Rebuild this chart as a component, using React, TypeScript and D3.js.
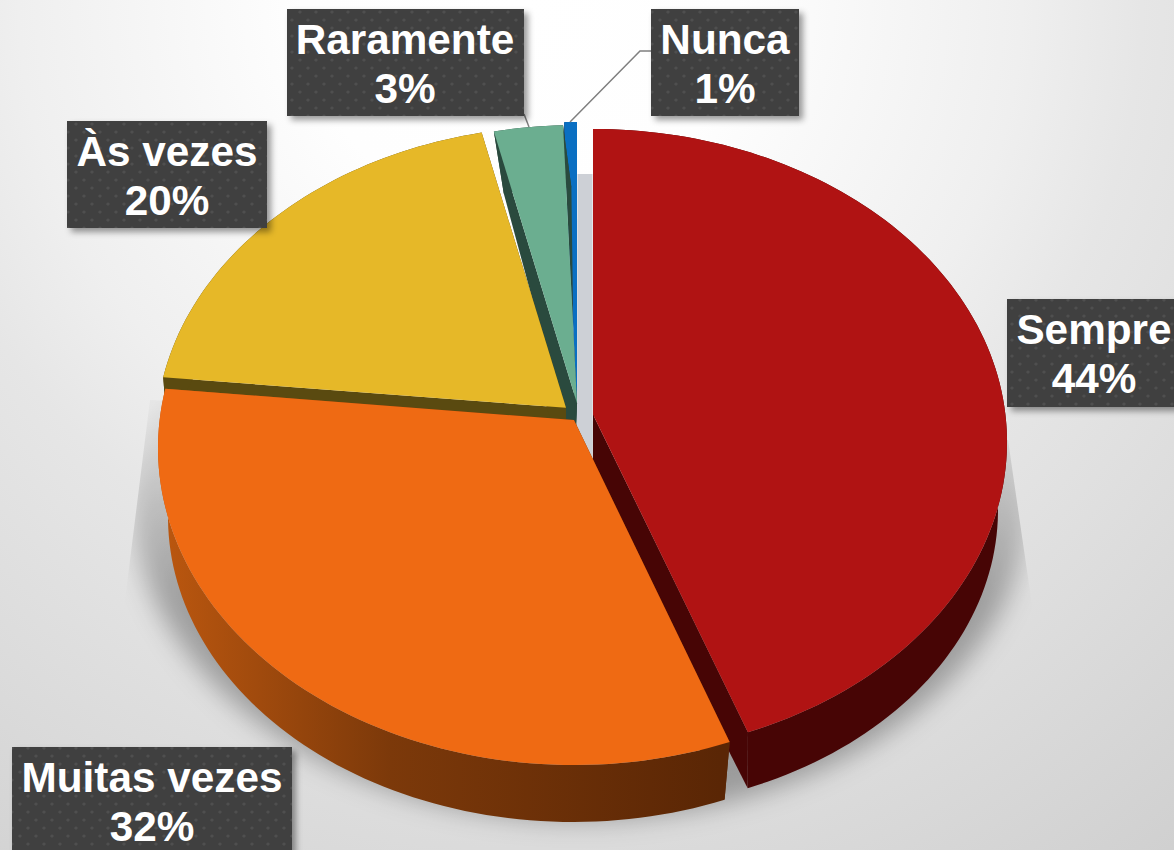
import React from "react";
import * as d3 from "d3";

const categories = ["Sempre", "Muitas vezes", "Às vezes", "Raramente", "Nunca"];
const values = [44.4, 32.2, 19.8, 3, 0.6];
const percentLabels = ["44%", "32%", "20%", "3%", "1%"];
const topColors = ["#b01313", "#ef6a13", "#e6b828", "#6bae90", "#0a6fc2"];
const wallColors = ["#470505", "url(#orangeWall)", "#5a4a10", "#2a4a3e", "#06386a"];

// projected ellipses for the upper face and the lower rim of each exploded slice
const topRims = [
  { cx: 593, cy: 442, rx: 414, ry: 313 },
  { cx: 574, cy: 448, rx: 416, ry: 317 },
  { cx: 566, cy: 435, rx: 410, ry: 309 },
  { cx: 577, cy: 430, rx: 404, ry: 305 },
  { cx: 577, cy: 440, rx: 371, ry: 318 },
];
const bottomRims = [
  { cx: 598, cy: 510, rx: 400, ry: 300 },
  { cx: 573, cy: 517, rx: 405, ry: 305 },
  { cx: 566, cy: 494, rx: 405, ry: 295 },
  { cx: 585, cy: 483, rx: 395, ry: 296 },
  { cx: 577, cy: 450, rx: 371, ry: 310 },
];
const innerBottomX = [593, 573, 566, 575, 577];
const labelBoxes = [
  { x: 1007, y: 299, w: 175, h: 108 },
  { x: 12, y: 747, w: 280, h: 112 },
  { x: 67, y: 121, w: 200, h: 107 },
  { x: 287, y: 9, w: 237, h: 107 },
  { x: 651, y: 9, w: 148, h: 107 },
];
const labelCenters = [1094, 152, 167, 405, 725];

const perspective = -0.088;
type Rim = { cx: number; cy: number; rx: number; ry: number };

function project(rim: Rim, theta: number, r = 1): [number, number] {
  const u = Math.sin(theta) * r;
  const v = -Math.cos(theta) * r;
  const e = perspective;
  const d = 1 + e * v;
  const pu = (u * Math.sqrt(1 - e * e)) / d;
  const pv = (v + e) / d;
  return [rim.cx + pu * rim.rx, rim.cy + pv * rim.ry];
}

const angles = d3.pie<number>().sort(null)(values);
const line = d3.line();

function arcPts(rim: Rim, a0: number, a1: number): [number, number][] {
  const n = Math.max(4, Math.ceil((a1 - a0) * 40));
  return d3.range(n + 1).map((i) => project(rim, a0 + ((a1 - a0) * i) / n));
}
const close = (pts: [number, number][]) => line(pts) + "Z";

function topPath(i: number) {
  const a = angles[i];
  return close([project(topRims[i], 0, 0), ...arcPts(topRims[i], a.startAngle, a.endAngle)]);
}
function wallPath(i: number) {
  const a = angles[i];
  return close([
    ...arcPts(topRims[i], a.startAngle, a.endAngle),
    ...arcPts(bottomRims[i], a.startAngle, a.endAngle).reverse(),
  ]);
}
function cutPath(i: number, theta: number) {
  return close([
    project(topRims[i], 0, 0),
    project(topRims[i], theta),
    project(bottomRims[i], theta),
    [innerBottomX[i], project(bottomRims[i], 0, 0)[1]],
  ]);
}

const order = [4, 3, 2, 0, 1];

export default function App() {
  return (
    <svg
      width={1174}
      height={850}
      viewBox="0 0 1174 850"
      style={{ position: "absolute", left: 0, top: 0, display: "block" }}
      fontFamily="'Liberation Sans', Arial, sans-serif"
    >
      <defs>
        <radialGradient id="bg" gradientUnits="userSpaceOnUse" cx={520} cy={0} r={1090}>
          <stop offset="0" stopColor="#ffffff" />
          <stop offset="0.2" stopColor="#fefefe" />
          <stop offset="0.46" stopColor="#efefef" />
          <stop offset="0.57" stopColor="#e6e6e6" />
          <stop offset="0.76" stopColor="#dcdcdc" />
          <stop offset="1" stopColor="#cfcfcf" />
        </radialGradient>
        <linearGradient id="orangeWall" gradientUnits="userSpaceOnUse" x1={170} x2={720} y1={0} y2={0}>
          <stop offset="0" stopColor="#b9560f" />
          <stop offset="0.4" stopColor="#7c390a" />
          <stop offset="1" stopColor="#5a2605" />
        </linearGradient>
        <linearGradient id="shadowFade" gradientUnits="userSpaceOnUse" x1={0} x2={0} y1={400} y2={600}>
          <stop offset="0" stopColor="#000" stopOpacity="0.04" />
          <stop offset="1" stopColor="#000" stopOpacity="0.3" />
        </linearGradient>
        <filter id="blur" x="-20%" y="-20%" width="140%" height="140%">
          <feGaussianBlur stdDeviation="13" />
        </filter>
        <clipPath id="shadowClip">
          <path d="M150 400 L1008 440 L1033 612 L1174 720 L1174 850 L0 850 L0 720 L125 600 Z" />
        </clipPath>
        <filter id="boxShadow" x="-10%" y="-10%" width="125%" height="125%">
          <feDropShadow dx="4" dy="4" stdDeviation="3" floodColor="#000" floodOpacity="0.4" />
        </filter>
        <pattern id="dots" width="16" height="16" patternUnits="userSpaceOnUse">
          <rect width="16" height="16" fill="#404040" />
          <circle cx="4" cy="4" r="1.6" fill="#505050" />
          <circle cx="12" cy="12" r="1.6" fill="#505050" />
        </pattern>
      </defs>
      <rect width={1174} height={850} fill="url(#bg)" />

      <g clipPath="url(#shadowClip)">
        <ellipse cx={580} cy={498} rx={448} ry={322} fill="url(#shadowFade)" filter="url(#blur)" />
      </g>
      <path d="M577.5 174 L592.5 174 L592.5 462 L577 432 Z" fill="#cdd0d6" />

      {order.map((i) => {
        const a = angles[i];
        return (
          <g key={categories[i]}>
            <path d={cutPath(i, a.startAngle)} fill={wallColors[i]} />
            <path d={cutPath(i, a.endAngle)} fill={wallColors[i]} />
            <path d={wallPath(i)} fill={wallColors[i]} />
            <path d={topPath(i)} fill={topColors[i]} />
          </g>
        );
      })}

      <g fill="none" stroke="#7f7f7f" strokeWidth={1.5}>
        <path d="M651 51 L640 51 L570 122" />
        <path d="M524 114 L529 127" />
      </g>

      {categories.map((c, i) => {
        const b = labelBoxes[i];
        return (
          <g key={c}>
            <rect x={b.x} y={b.y} width={b.w} height={b.h} fill="url(#dots)" filter="url(#boxShadow)" />
            <text textAnchor="middle" fill="#ffffff" fontWeight="700" fontSize={42.3} x={labelCenters[i]} y={b.y + 45}>
              {c}
            </text>
            <text textAnchor="middle" fill="#ffffff" fontWeight="700" fontSize={42.3} x={labelCenters[i]} y={b.y + 94}>
              {percentLabels[i]}
            </text>
          </g>
        );
      })}
    </svg>
  );
}
